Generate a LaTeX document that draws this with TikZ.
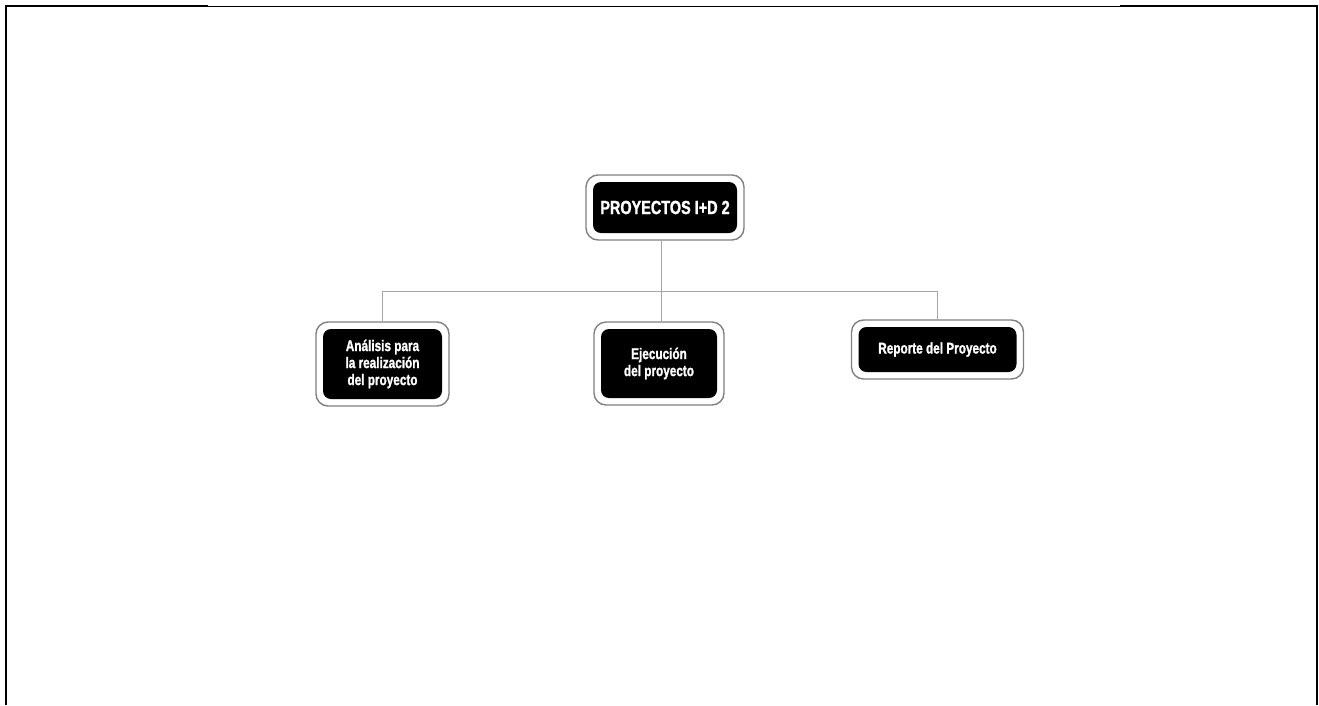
\documentclass[tikz,border=0pt]{standalone}
\usepackage{fontspec}
\setmainfont{Liberation Sans}[FakeStretch=0.76, BoldFeatures={FakeBold=1.3}]
\usepackage{tikz}
\usetikzlibrary{calc}

\tikzset{
  caja/.style={fill=black, text=white, rounded corners=8pt, inner sep=0pt,
    outer sep=7pt, align=center, font=\bfseries\fontsize{15.5}{17}\selectfont},
  marco/.style={draw=black!50, line width=1.4pt, rounded corners=12pt},
  linea/.style={draw=black!35, line width=1pt}
}

\begin{document}
\begin{tikzpicture}[x=1pt, y=-1pt]
  \useasboundingbox (0, 0) rectangle (1319, 705);

\draw [line width=2.2pt] (6, 705) -- (6, 6) -- (208, 6);
\draw [line width=1pt] (208, 6) -- (1120, 6);
\draw [line width=2.2pt] (1120, 6) -- (1317, 6) -- (1317, 705);

\node [caja, minimum width=144, minimum height=51, font=\bfseries\fontsize{19}{22}\selectfont]
  (sup) at (665, 207.5) {PROYECTOS I+D 2};
\node [caja, minimum width=119, minimum height=70] (izq) at (382.5, 364)
  {Análisis para\\la realización\\del proyecto};
\node [caja, minimum width=116, minimum height=69] (cen) at (659, 363.5)
  {Ejecución\\del proyecto};
\node [caja, minimum width=158, minimum height=45] (der) at (937.5, 349.5)
  {Reporte del Proyecto};

\foreach \n in {sup, izq, cen, der}
  \draw [marco] (\n.south west) rectangle (\n.north east);

\coordinate (bus) at (661, 291);
\draw [linea] (bus |- sup.south) -- (bus);
\draw [linea] (izq.north) -- (izq.north |- bus) -- (der.north |- bus) -- (der.north);
\draw [linea] (bus) -- (bus |- cen.north);

\end{tikzpicture}
\end{document}
